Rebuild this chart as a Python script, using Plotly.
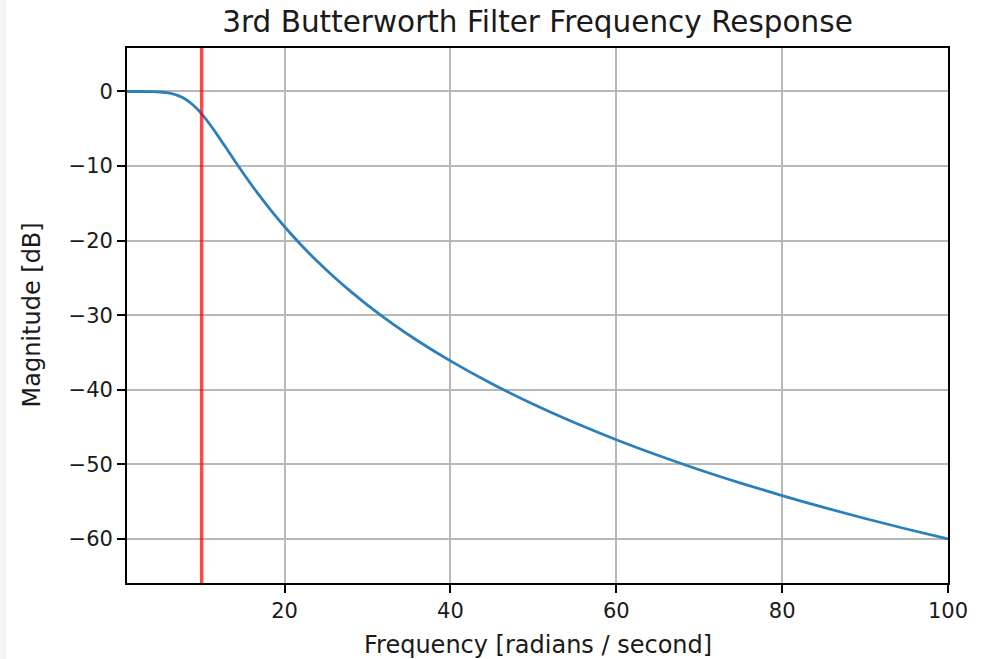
import plotly.graph_objects as go

# Frequency response (radians / second, dB)
freq = [1, 2, 3, 4, 5, 6, 6.5, 7, 7.5, 8, 8.5, 9, 9.5, 10, 10.5, 11, 11.5, 12, 12.5,
        13, 14, 15, 16, 17, 18, 19, 20, 22, 24, 26, 28, 30, 33, 36, 40, 45, 50, 55,
        60, 65, 70, 75, 80, 85, 90, 95, 100]
mag_db = [0.0, 0.0, -0.003, -0.02, -0.07, -0.2, -0.32, -0.48, -0.71, -1.01, -1.39,
          -1.85, -2.39, -3.01, -3.69, -4.43, -5.2, -6.01, -6.83,
          -7.65, -9.31, -10.93, -12.5, -14.0, -15.44, -16.82, -18.13, -20.58, -22.84,
          -24.91, -26.84, -28.63, -31.11, -33.38, -36.12, -39.19, -41.94, -44.42,
          -46.69, -48.77, -50.71, -52.5, -54.19, -55.77, -57.25, -58.66, -60.0]
cutoff = 10

x_ticks = [20, 40, 60, 80, 100]
y_ticks = [0, -10, -20, -30, -40, -50, -60]
y_tick_text = ["0", "\u221210", "\u221220", "\u221230", "\u221240", "\u221250", "\u221260"]

FONT = "DejaVu Sans"
L, R, T, B = 127, 40, 48, 76
PW, PH = 988 - L - R, 659 - T - B

fig = go.Figure()
fig.add_trace(go.Scatter(x=freq, y=mag_db, mode="lines", line=dict(color="#2b7fbb", width=2.8, shape="spline"),
                         showlegend=False, hoverinfo="x+y"))

fig.add_shape(type="line", xref="x", yref="paper", x0=cutoff, x1=cutoff, y0=0, y1=1,
              line=dict(color="rgba(255,0,0,0.72)", width=3.5), layer="above")

# light strip at the left edge of the page
fig.add_shape(type="rect", xref="paper", yref="paper", x0=-L/PW, x1=(6 - L)/PW, y0=-B/PH, y1=1 + T/PH,
              fillcolor="#f4f4f4", line=dict(width=0), layer="below")

axis_common = dict(showline=True, linecolor="black", linewidth=1.8, mirror=True,
                   ticks="outside", ticklen=8, tickwidth=1.8, tickcolor="black",
                   showgrid=True, gridcolor="#b8b8b8", gridwidth=1.6, zeroline=False,
                   automargin=False,
                   tickfont=dict(family=FONT, size=21, color="#1a1a1a"))

fig.add_annotation(text="Frequency [radians / second]", xref="paper", yref="paper",
                   x=0.5, y=-(645 - (659 - B)) / PH, xanchor="center", yanchor="middle",
                   showarrow=False, font=dict(family=FONT, size=24, color="#1a1a1a"))
fig.add_annotation(text="Magnitude [dB]", xref="paper", yref="paper", textangle=-90,
                   x=(31 - L) / PW, y=0.5, xanchor="center", yanchor="middle",
                   showarrow=False, font=dict(family=FONT, size=24, color="#1a1a1a"))

fig.update_layout(
    width=988, height=659,
    margin=dict(l=L, r=R, t=T, b=B),
    paper_bgcolor="white", plot_bgcolor="white",
    title=dict(text="3rd Butterworth Filter Frequency Response", x=(L + 988 - R) / 2 / 988, xanchor="center",
               y=1 - 22 / 659, yanchor="middle", font=dict(family=FONT, size=29.5, color="#1a1a1a")),
    xaxis=dict(range=[1, 100], tickvals=x_ticks, ticktext=[str(v) for v in x_ticks], **axis_common),
    yaxis=dict(range=[-65.9, 5.83], tickvals=y_ticks, ticktext=y_tick_text, **axis_common),
)

fig.write_html("out.html")
